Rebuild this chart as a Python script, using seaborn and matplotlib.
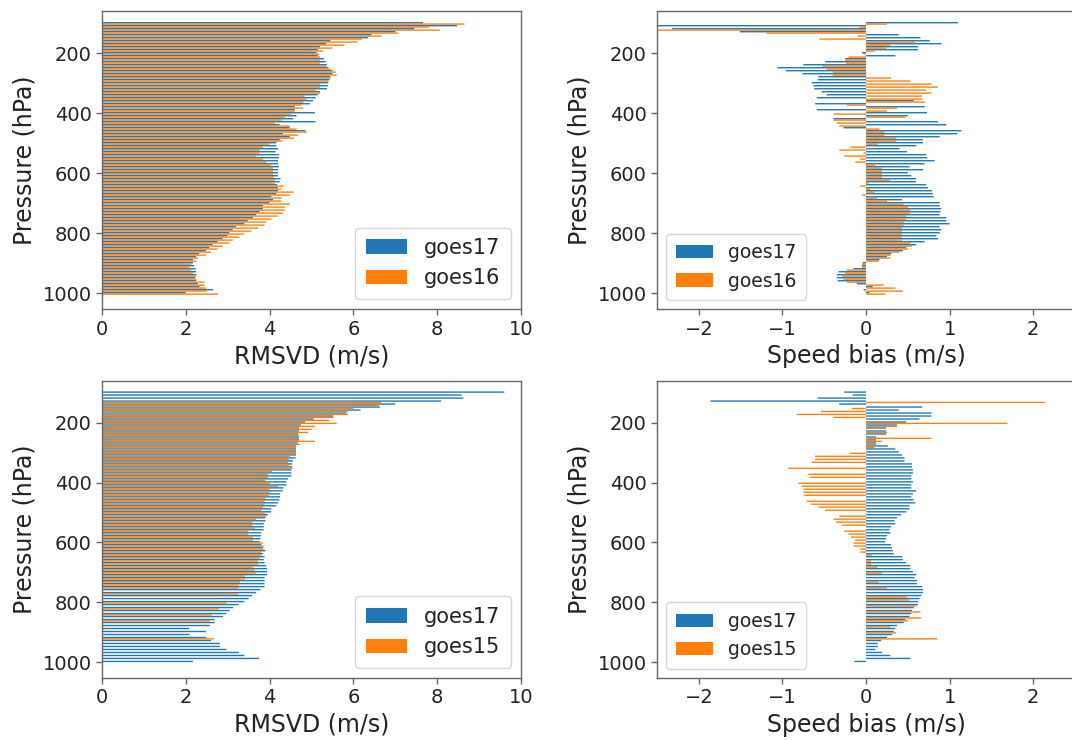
import numpy as np
import pandas as pd
import matplotlib
matplotlib.use("Agg")
import matplotlib.pyplot as plt
import seaborn as sns

# Pressure levels (hPa)
levels = np.arange(100, 1001, 10)

# RMSVD (m/s), GOES-17 vs GOES-16
rmsvd_g17_a = [
    7.66, 8.47, 7.45, 7.00, 6.43, 6.35, 5.45, 5.35, 5.20, 5.15,
    5.12, 5.15, 5.30, 5.34, 5.37, 5.40, 5.50, 5.50, 5.45, 5.43,
    5.40, 5.39, 5.37, 5.20, 5.15, 5.10, 5.04, 4.96, 4.60, 4.60,
    5.08, 4.64, 4.56, 5.10, 4.24, 4.48, 4.85, 4.32, 4.48, 4.24,
    4.16, 4.16, 4.20, 4.14, 4.22, 4.22, 4.20, 4.20, 4.22, 4.20,
    4.20, 4.20, 4.26, 4.24, 4.18, 4.20, 4.20, 4.16, 4.04, 4.08,
    4.00, 3.84, 3.84, 3.76, 3.68, 3.60, 3.48, 3.40, 3.20, 3.12,
    3.04, 3.00, 2.88, 2.76, 2.64, 2.56, 2.48, 2.32, 2.25, 2.17,
    2.17, 2.20, 2.24, 2.25, 2.25, 2.22, 2.25, 2.29, 2.33, 2.65,
    2.00,
]
rmsvd_g16 = [
    8.65, 7.80, 8.06, 7.07, 6.67, 6.20, 6.10, 5.79, 5.50, 5.27,
    5.18, 5.20, 5.20, 5.20, 5.35, 5.45, 5.58, 5.60, 5.45, 5.40,
    5.20, 5.20, 5.10, 5.20, 4.83, 4.88, 4.80, 4.76, 4.80, 4.60,
    4.52, 4.36, 4.28, 4.12, 4.48, 4.64, 4.88, 4.68, 4.58, 4.30,
    4.00, 3.84, 3.76, 3.76, 3.68, 3.84, 3.92, 4.04, 4.08, 4.08,
    4.08, 4.10, 4.12, 4.12, 4.32, 4.28, 4.57, 4.48, 4.28, 4.28,
    4.48, 4.36, 4.36, 4.32, 4.20, 4.04, 3.92, 3.88, 3.72, 3.56,
    3.40, 3.28, 3.12, 3.04, 2.88, 2.76, 2.60, 2.48, 2.29, 2.25,
    2.13, 2.09, 2.13, 2.17, 2.25, 2.25, 2.45, 2.45, 2.49, 2.50,
    2.77,
]

# Speed bias (m/s), GOES-17 vs GOES-16
bias_g17_a = [
    1.10, -2.60, -2.32, -1.51, 0.39, 0.65, 0.76, 0.90, 0.62, 0.62,
    -0.05, 0.35, -0.25, -0.49, -0.75, -1.06, -0.96, -0.76, -0.57, -0.58,
    -0.65, -0.63, -0.62, -0.53, -0.47, -0.59, 0.57, -0.61, 0.70, -0.59,
    0.73, 0.50, -0.39, 0.86, 0.96, -0.27, 1.14, 1.09, 0.88, 0.68,
    0.68, 0.60, 0.40, 0.49, 0.72, 0.73, 0.82, 0.70, 0.52, 0.68,
    0.50, 0.54, 0.60, 0.60, 0.72, 0.74, 0.79, 0.80, 0.81, 0.43,
    0.88, 0.88, 0.90, 0.89, 0.88, 0.96, 0.96, 1.00, 0.88, 0.90,
    0.88, 0.84, 0.86, 0.70, 0.60, 0.48, 0.44, 0.30, 0.25, 0.16,
    -0.04, -0.05, -0.15, -0.33, -0.35, -0.35, -0.34, -0.11, 0.08, -0.03,
    0.04,
]
bias_g16 = [
    0.25, -0.08, -2.60, -1.19, -0.10, -0.56, 0.59, 0.29, 0.24, 0.10,
    -0.03, -0.21, -0.25, -0.24, -0.52, -0.47, -0.40, -0.40, 0.30, 0.53,
    0.78, 0.86, 0.72, 0.78, 0.67, 0.67, 0.70, -0.23, 0.37, 0.25,
    -0.39, 0.47, -0.39, -0.35, -0.32, 0.16, 0.22, 0.22, 0.36, 0.36,
    0.14, -0.19, -0.32, -0.03, -0.26, -0.07, -0.13, 0.11, 0.19, 0.19,
    0.19, 0.19, 0.29, 0.03, -0.07, 0.05, 0.10, -0.05, 0.13, 0.25,
    0.45, 0.50, 0.53, 0.53, 0.48, 0.48, 0.45, 0.45, 0.43, 0.43,
    0.43, 0.43, 0.43, 0.53, 0.55, 0.50, 0.40, 0.29, 0.29, 0.15,
    -0.05, -0.05, -0.23, -0.25, -0.29, -0.27, -0.23, 0.21, 0.35, 0.44,
    0.23,
]

nan = np.nan

# RMSVD (m/s), GOES-17 vs GOES-15
rmsvd_g17_b = [
    9.60, 8.58, 8.62, 8.09, 7.00, 6.63, 6.17, 5.83, 5.52, 5.05,
    4.85, 4.75, 4.70, 4.70, 4.68, 4.70, 4.70, 4.67, 4.63, 4.63,
    4.63, 4.63, 4.62, 4.56, 4.54, 4.54, 4.52, 4.52, 4.52, 4.44,
    4.40, 4.40, 4.33, 4.31, 4.25, 4.25, 4.23, 4.20, 4.16, 4.04,
    4.04, 3.96, 3.90, 3.90, 3.86, 3.86, 3.86, 3.80, 3.79, 3.78,
    3.76, 3.80, 3.84, 3.90, 3.84, 3.88, 3.86, 3.88, 3.92, 3.94,
    3.94, 3.94, 3.88, 3.88, 3.88, 3.88, 3.78, 3.68, 3.58, 3.50,
    3.40, 3.26, 3.13, 3.05, 2.97, 2.89, 2.69, 2.69, 2.57, 2.08,
    2.48, 2.09, 2.48, 2.60, 2.81, 2.81, 2.97, 3.27, 3.40, 3.75,
    2.17,
]
rmsvd_g15 = [
    nan, nan, nan, 6.67, 6.60, 6.00, 5.87, 5.87, 5.52, 5.42,
    5.60, 5.08, 5.00, 4.92, 4.70, 4.70, 5.08, 4.73, 4.63, 4.63,
    4.63, 4.48, 4.46, 4.44, 4.46, 4.54, 4.06, 3.96, 3.96, 3.90,
    4.00, 4.20, 4.00, 4.00, 3.98, 3.90, 3.88, 3.88, 3.84, 3.80,
    3.90, 3.92, 3.68, 3.59, 3.59, 3.65, 3.49, 3.49, 3.60, 3.60,
    3.84, 3.86, 3.86, 3.80, 3.80, 3.76, 3.72, 3.72, 3.60, 3.64,
    3.68, 3.41, 3.41, 3.29, 3.26, 3.25, nan, 3.25, nan, nan,
    2.97, nan, 2.79, nan, 2.63, nan, 2.57, nan, nan, nan,
    nan, nan, 2.67, nan, nan, nan, nan, nan, nan, nan,
    nan,
]

# Speed bias (m/s), GOES-17 vs GOES-15
bias_g17_b = [
    -0.26, -0.16, -0.58, -1.86, -0.32, 0.67, 0.39, 0.78, 0.78, 0.64,
    0.48, 0.37, 0.24, 0.24, 0.24, 0.12, 0.12, 0.12, 0.26, 0.35,
    0.39, 0.43, 0.46, 0.46, 0.55, 0.55, 0.56, 0.56, 0.54, 0.54,
    0.56, 0.54, 0.54, 0.60, 0.56, 0.54, 0.57, 0.59, 0.52, 0.52,
    0.48, 0.42, 0.37, 0.34, 0.35, 0.30, 0.28, 0.29, 0.25, 0.24,
    0.23, 0.30, 0.31, 0.32, 0.33, 0.43, 0.44, 0.48, 0.53, 0.53,
    0.56, 0.60, 0.58, 0.61, 0.61, 0.67, 0.68, 0.68, 0.66, 0.64,
    0.62, 0.62, 0.57, 0.55, 0.54, 0.52, 0.47, 0.45, 0.37, 0.35,
    0.33, 0.31, 0.25, 0.18, 0.14, 0.14, 0.11, 0.19, 0.29, 0.53,
    -0.14,
]
bias_g15 = [
    nan, nan, nan, 2.14, nan, -0.17, -0.54, -0.83, -0.39, nan,
    1.69, 0.37, nan, 0.25, nan, 0.78, 0.19, 0.12, 0.10, nan,
    -0.19, -0.61, -0.61, -0.65, nan, -0.93, nan, -0.69, -0.67, nan,
    -0.81, -0.77, -0.75, -0.75, -0.74, nan, -0.71, -0.66, -0.57, -0.49,
    nan, -0.32, -0.39, -0.36, -0.29, nan, -0.26, -0.21, -0.18, -0.13,
    -0.15, -0.15, -0.07, -0.07, 0.07, nan, 0.06, 0.06, 0.13, nan,
    0.19, nan, nan, 0.15, nan, 0.25, nan, nan, 0.49, 0.52,
    nan, 0.60, nan, 0.65, nan, 0.66, 0.50, nan, 0.29, nan,
    0.36, nan, 0.85, nan, nan, nan, nan, nan, nan, nan,
    nan,
]

panels = [
    ("goes17", rmsvd_g17_a, "goes16", rmsvd_g16, "RMSVD (m/s)", "rmsvd"),
    ("goes17", bias_g17_a, "goes16", bias_g16, "Speed bias (m/s)", "bias"),
    ("goes17", rmsvd_g17_b, "goes15", rmsvd_g15, "RMSVD (m/s)", "rmsvd"),
    ("goes17", bias_g17_b, "goes15", bias_g15, "Speed bias (m/s)", "bias"),
]

sns.set_style("ticks")
plt.rcParams.update({
    "font.family": ["DejaVu Sans"],
    "axes.edgecolor": "#666666",
    "xtick.color": "#666666",
    "ytick.color": "#666666",
    "xtick.labelcolor": "#222222",
    "ytick.labelcolor": "#222222",
    "axes.labelcolor": "#222222",
    "text.color": "#222222",
    "axes.linewidth": 1.0,
})

palette = ["#1f77b4", "#ff7f0e"]

fig = plt.figure(figsize=(10.72, 7.40), dpi=100)
rects = [
    [0.0951, 0.582, 0.391, 0.403],
    [0.6129, 0.582, 0.390, 0.403],
    [0.0951, 0.0838, 0.391, 0.402],
    [0.6129, 0.0838, 0.390, 0.402],
]

for rect, (n1, v1, n2, v2, xlabel, kind) in zip(rects, panels):
    ax = fig.add_axes(rect)
    df = pd.DataFrame({
        "pressure": np.concatenate([levels, levels]),
        "value": np.concatenate([np.asarray(v1, float), np.asarray(v2, float)]),
        "sat": [n1] * len(levels) + [n2] * len(levels),
    }).dropna()
    sns.barplot(data=df, x="value", y="pressure", hue="sat",
                hue_order=[n1, n2], orient="h", native_scale=True,
                palette=palette, saturation=1, errorbar=None,
                width=0.92, linewidth=0, ax=ax)
    # thin bars: let antialiasing blend neighbouring rows instead of snapping
    for p in ax.patches:
        p.set_snap(False)
    ax.set_ylim(1053, 59)
    ax.set_yticks([200, 400, 600, 800, 1000])
    if kind == "rmsvd":
        ax.set_xlim(0, 10)
        ax.set_xticks([0, 2, 4, 6, 8, 10])
        loc, fs = "lower right", 15
    else:
        ax.set_xlim(-2.5, 2.5)
        ax.set_xticks([-2, -1, 0, 1, 2])
        loc, fs = "lower left", 13.5
    ax.tick_params(axis="both", labelsize=14, length=4, width=1)
    ax.set_xlabel(xlabel, fontsize=17)
    ax.set_ylabel("Pressure (hPa)", fontsize=17)
    for s in ax.spines.values():
        s.set_visible(True)
    sns.move_legend(ax, loc=loc, title=None, fontsize=fs, frameon=True,
                    borderpad=0.5, labelspacing=0.5)

fig.savefig("out.png", dpi=100)
